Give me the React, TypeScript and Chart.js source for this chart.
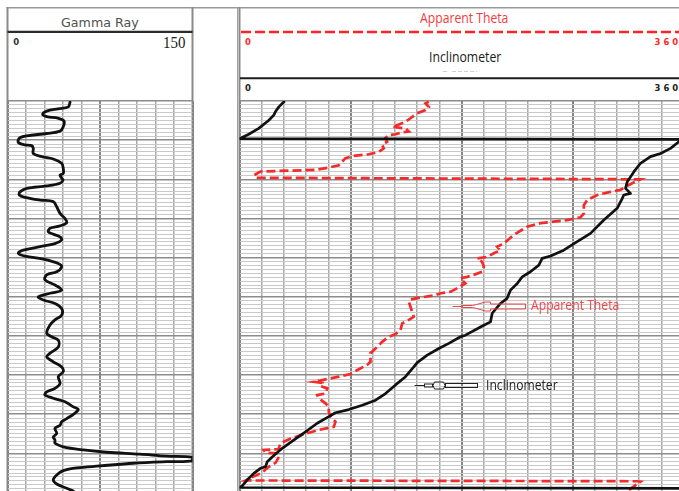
import React, { useEffect, useRef } from 'react';
import { Chart, registerables } from 'chart.js';

Chart.register(...registerables);

// ---------------- depth axis (shared) ----------------
const depthTop = 0;
const depthBottom = 100;
const depthMinorStep = 1;
const depthMajorStep = 10;

// ---------------- Gamma Ray track ----------------
const gammaMin = 0;
const gammaMax = 150;
const gammaStep = 15;
const gammaMajorStep = 75;
const gammaScaleLabels = ['0', '150'];

const gammaValues = [
  50.7, 49.3, 40.9, 31.8, 28.5, 31.8, 40.9, 45.8, 45.2, 42.6,
  31.8, 15.6, 9.6, 8.8, 14.2, 19.6, 20.9, 20.9, 27.7, 37.1,
  43.9, 45.2, 45.2, 42.6, 43.9, 45.0, 42.6, 31.8, 15.6, 10.1,
  9.6, 14.2, 26.4, 37.1, 39.9, 42.6, 46.6, 48.0, 42.6, 34.5,
  33.1, 37.1, 42.6, 43.9, 38.5, 26.4, 12.8, 8.8, 14.2, 29.0,
  41.2, 43.9, 39.9, 31.8, 30.4, 38.5, 43.9, 34.5, 25.0, 29.0,
  38.5, 43.9, 43.9, 38.5, 34.5, 31.8, 35.8, 41.2, 41.2, 34.5,
  31.8, 37.1, 43.9, 45.2, 41.2, 42.6, 38.5, 31.8, 30.4, 37.1,
  46.6, 53.4, 57.4, 53.4, 48.0, 43.9, 42.6, 38.5, 39.9, 37.1,
  38.5, 38.5, 45.2, 61.5, 80.4, 107.4, 129.1, 150.0, 150.0, 129.1,
  102.0, 75.0, 56.1, 45.2, 39.9, 37.1, 39.9, 48.0, 53.4,
];
const gammaDepths = [
  0.3, 1.5, 2.0, 2.6, 3.4, 4.0, 4.4, 5.1, 6.6, 7.7,
  8.3, 8.9, 9.5, 10.6, 11.2, 11.4, 12.1, 13.4, 14.2, 14.8,
  15.9, 17.2, 18.5, 18.9, 19.7, 20.2, 21.0, 21.7, 22.3, 23.2,
  24.0, 24.6, 25.3, 25.7, 27.0, 28.7, 30.0, 31.1, 31.9, 32.5,
  33.4, 34.0, 34.7, 35.5, 36.4, 37.2, 38.1, 38.9, 39.6, 40.4,
  41.5, 42.3, 43.6, 44.4, 45.7, 47.0, 48.3, 49.1, 50.0, 50.8,
  51.7, 53.0, 54.7, 55.9, 57.2, 59.3, 60.2, 61.1, 62.8, 64.4,
  65.3, 66.6, 67.9, 69.1, 70.4, 72.1, 73.4, 74.3, 75.1, 75.9,
  76.8, 78.1, 78.8, 80.0, 81.1, 81.9, 82.8, 83.6, 84.9, 85.8,
  86.6, 87.4, 88.3, 89.1, 89.7, 90.2, 90.7, 91.0, 91.9, 92.1,
  92.5, 93.2, 93.7, 94.4, 95.5, 96.8, 97.8, 98.9, 99.6,
];

// ---------------- Apparent Theta / Inclinometer track ----------------
const angleMin = 0;
const angleMax = 360;
const angleStep = 18;
const angleMajorStep = 90;
const angleScaleLabels = ['0', '360'];

const inclinometerAngles = [
  36.7, 31.9, 29.2, 27.8, 23.8, 15.6, 7.5, 0.8, 0, 360,
  357.6, 356.2, 349.5, 341.4, 333.2, 325.1, 319.7, 314.4, 313.0, 317.0,
  311.6, 310.3, 306.2, 295.4, 284.6, 273.8, 262.9, 252.2, 245.4, 242.7,
  235.9, 229.2, 225.2, 219.7, 217.0, 211.6, 204.9, 203.5, 195.4, 183.2,
  179.2, 169.7, 161.6, 152.2, 144.1, 141.3, 134.6, 126.5, 118.4, 110.3,
  99.5, 88.6, 77.8, 72.4, 63.0, 53.5, 44.0, 34.6, 26.5, 22.5,
  21.1, 17.0, 11.6, 6.2, 2.2, 0, 360,
];
const inclinometerDepths = [
  0.0, 1.5, 2.7, 3.6, 4.9, 7.0, 8.5, 9.5, 9.6, 9.8,
  10.0, 10.4, 12.1, 13.4, 14.2, 15.9, 18.1, 20.6, 22.3, 23.6,
  24.0, 24.9, 27.4, 30.4, 33.8, 35.9, 38.1, 39.6, 40.2, 41.9,
  43.6, 44.9, 46.6, 48.3, 50.4, 51.7, 54.2, 56.4, 57.7, 59.8,
  60.2, 61.9, 63.2, 64.9, 66.8, 67.9, 70.4, 72.5, 74.7, 76.4,
  77.7, 78.8, 79.6, 80.6, 82.3, 84.5, 86.6, 88.7, 90.9, 92.1,
  93.4, 93.8, 95.1, 96.8, 98.3, 98.7, 98.9,
];

const apparentThetaAngles = [
  153.5, 150.8, 153.5, 150.8, 144.1, 138.6, 134.6, 129.2, 123.8, 134.6,
  137.3, 131.9, 126.5, 121.1, 118.4, 119.7, 115.7, 117.0, 112.9, 104.8,
  92.7, 85.9, 80.5, 72.4, 61.6, 17.0, 12.0, 13.5, 325.1, 318.4,
  313.0, 308.9, 300.8, 290.0, 281.9, 279.2, 279.2, 276.5, 265.7, 254.8,
  244.0, 233.3, 222.4, 214.3, 208.9, 211.6, 206.2, 200.8, 192.7, 196.8,
  198.1, 196.8, 190.0, 184.6, 179.2, 183.2, 173.7, 171.1, 163.0, 158.9,
  148.1, 138.6, 137.3, 138.6, 140.0, 141.3, 137.3, 131.9, 130.5, 126.5,
  121.1, 115.7, 110.3, 106.2, 106.2, 103.5, 96.7, 90.0, 80.5, 69.7,
  60.2, 67.1, 65.7, 71.1, 69.7, 63.0, 64.3, 69.7, 72.4, 72.4,
  73.8, 77.8, 76.5, 64.3, 52.1, 41.4, 33.2, 31.6, 19.5, 21.1,
  31.4, 31.4, 29.2, 22.9, 18.4, 10.5, 4.9, 322.7, 325.1, 314.4,
];
const apparentThetaDepths = [
  0.2, 0.6, 1.5, 2.3, 3.1, 4.4, 5.3, 6.0, 6.6, 7.0,
  7.8, 8.0, 8.5, 8.7, 9.4, 10.4, 11.2, 12.1, 13.0, 13.6,
  14.0, 14.6, 16.4, 17.0, 17.6, 18.0, 18.9, 19.6, 20.0, 21.0,
  21.9, 22.7, 23.2, 24.0, 25.3, 26.6, 28.7, 29.7, 30.4, 30.8,
  31.2, 32.1, 34.2, 36.4, 37.2, 38.1, 38.9, 39.8, 40.2, 41.1,
  42.3, 43.6, 44.4, 44.9, 45.3, 46.6, 48.3, 48.7, 49.1, 49.6,
  50.1, 50.7, 51.3, 52.5, 53.8, 55.1, 55.9, 56.8, 58.5, 59.5,
  60.2, 61.5, 63.2, 64.4, 66.6, 67.4, 68.5, 69.7, 70.4, 71.1,
  71.7, 72.0, 72.8, 73.4, 74.7, 75.1, 75.9, 77.2, 78.1, 79.4,
  80.6, 81.9, 83.2, 84.0, 85.1, 86.2, 87.4, 88.9, 89.1, 89.8,
  90.0, 91.2, 92.4, 93.6, 94.9, 96.0, 96.9, 97.1, 97.2, 99.6,
];

// callouts (arrow tips in data units)
const calloutLabels = ['Apparent Theta', 'Inclinometer'];
const calloutAngles = [172.5, 141.3];
const calloutDepths = [52.4, 72.5];

// ---------------- styling ----------------
const RED = '#f52a2a';
const BLACK = '#111111';

function isMultiple(v: number, step: number) {
  const r = v / step;
  return Math.abs(r - Math.round(r)) < 1e-6;
}

function depthAxis() {
  return {
    type: 'linear',
    reverse: true,
    min: depthTop,
    max: depthBottom,
    border: { display: false },
    ticks: { display: false, stepSize: depthMinorStep, autoSkip: false, maxTicksLimit: 1000 },
    grid: {
      drawTicks: false,
      color: (c: any) => (c.tick && isMultiple(c.tick.value, depthMajorStep) ? '#8c8c8c' : '#c9c9c9'),
      lineWidth: (c: any) => (c.tick && isMultiple(c.tick.value, depthMajorStep) ? 1.6 : 1),
    },
  };
}

function valueAxis(min: number, max: number, step: number, major: number) {
  return {
    type: 'linear',
    min,
    max,
    border: { display: false },
    ticks: { display: false, stepSize: step, autoSkip: false, maxTicksLimit: 1000 },
    grid: {
      drawTicks: false,
      color: (c: any) => (c.tick && isMultiple(c.tick.value, major) ? '#858585' : '#a9a9a9'),
      lineWidth: (c: any) => (c.tick && isMultiple(c.tick.value, major) ? 2 : 1.5),
    },
  };
}

function baseOptions(padding: any, xAxis: any) {
  return {
    animation: false,
    responsive: false,
    maintainAspectRatio: false,
    events: [],
    layout: { padding },
    plugins: { legend: { display: false }, tooltip: { enabled: false }, title: { display: false } },
    scales: { x: xAxis, y: depthAxis() },
  };
}

const calloutPlugin = {
  id: 'callouts',
  afterDatasetsDraw(chart: any) {
    const { ctx, scales } = chart;
    const xs = scales.x;
    const ys = scales.y;
    ctx.save();
    ctx.lineWidth = 1;
    calloutLabels.forEach((_, i) => {
      const px = Math.round(xs.getPixelForValue(calloutAngles[i])) + 0.5;
      const py = Math.round(ys.getPixelForValue(calloutDepths[i])) + 0.5;
      if (i === 0) {
        ctx.strokeStyle = '#e8474b';
        ctx.beginPath();
        ctx.moveTo(px, py);
        ctx.lineTo(px + 10, py);
        ctx.stroke();
        const pts = [
          [10, -1], [20, -1], [24, -2], [33, -4.5], [38, -4.5], [38, -2.5], [73, -2.5],
          [73, 2.5], [38, 2.5], [38, 4.5], [33, 4.5], [24, 2], [20, 1], [10, 1],
        ];
        ctx.beginPath();
        pts.forEach((p, k) => (k ? ctx.lineTo(px + p[0], py + p[1]) : ctx.moveTo(px + p[0], py + p[1])));
        ctx.closePath();
        ctx.stroke();
      } else {
        ctx.strokeStyle = '#222222';
        ctx.beginPath();
        ctx.moveTo(px, py);
        ctx.lineTo(px + 10, py);
        ctx.stroke();
        ctx.strokeRect(px + 10, py - 1.5, 8, 3);
        ctx.beginPath();
        ctx.moveTo(px + 20, py - 3.5);
        ctx.lineTo(px + 29, py - 3.5);
        ctx.quadraticCurveTo(px + 32, py, px + 29, py + 3.5);
        ctx.lineTo(px + 20, py + 3.5);
        ctx.quadraticCurveTo(px + 17, py, px + 20, py - 3.5);
        ctx.stroke();
        ctx.strokeRect(px + 31, py - 2, 32, 4);
      }
    });
    ctx.restore();
  },
};

function gammaConfig(): any {
  return {
    type: 'scatter',
    data: {
      datasets: [
        {
          label: 'Gamma Ray',
          data: gammaValues.map((v, i) => ({ x: v, y: gammaDepths[i] })),
          showLine: true,
          borderColor: BLACK,
          borderWidth: 2.8,
          pointRadius: 0,
          tension: 0.35,
          fill: false,
          borderJoinStyle: 'round',
          borderCapStyle: 'round',
        },
      ],
    },
    options: baseOptions({ left: 7.5, right: 7.5, top: 5, bottom: 3.4 }, valueAxis(gammaMin, gammaMax, gammaStep, gammaMajorStep)),
  };
}

function thetaConfig(): any {
  return {
    type: 'scatter',
    data: {
      datasets: [
        {
          label: 'Inclinometer',
          data: inclinometerAngles.map((v, i) => ({ x: v, y: inclinometerDepths[i] })),
          showLine: true,
          borderColor: BLACK,
          borderWidth: 2.7,
          pointRadius: 0,
          tension: 0,
          fill: false,
          borderJoinStyle: 'round',
          order: 1,
        },
        {
          label: 'Apparent Theta',
          data: apparentThetaAngles.map((v, i) => ({ x: v, y: apparentThetaDepths[i] })),
          showLine: true,
          borderColor: RED,
          borderWidth: 2.7,
          borderDash: [9, 4],
          pointRadius: 0,
          tension: 0,
          fill: false,
          order: 2,
        },
      ],
    },
    options: baseOptions({ left: 9.5, right: 6.5, top: 5, bottom: 3.4 }, valueAxis(angleMin, angleMax, angleStep, angleMajorStep)),
    plugins: [calloutPlugin],
  };
}

function Track({ left, top, width, height, make }: any) {
  const ref = useRef<HTMLCanvasElement>(null);
  useEffect(() => {
    const chart = new Chart(ref.current as HTMLCanvasElement, make());
    return () => chart.destroy();
  }, []);
  return (
    <canvas
      ref={ref}
      width={width}
      height={height}
      style={{ position: 'absolute', left, top, width, height, display: 'block' }}
    />
  );
}

let measureCtx: CanvasRenderingContext2D | null = null;
function measure(text: string, font: string) {
  if (!measureCtx) measureCtx = document.createElement('canvas').getContext('2d');
  (measureCtx as CanvasRenderingContext2D).font = font;
  return (measureCtx as CanvasRenderingContext2D).measureText(text);
}

function Label({ text, left, baseline, inkWidth, font, color, spacing }: any) {
  const m: any = measure(text, font);
  const ink = m.actualBoundingBoxLeft + m.actualBoundingBoxRight;
  const sx = inkWidth && ink > 0 ? inkWidth / ink : 1;
  const ascent = m.fontBoundingBoxAscent != null ? m.fontBoundingBoxAscent : parseFloat(font) * 0.95;
  return (
    <div
      style={{
        position: 'absolute',
        left: left + m.actualBoundingBoxLeft * sx,
        top: baseline - ascent,
        font,
        color,
        letterSpacing: spacing || 'normal',
        whiteSpace: 'nowrap',
        transform: `scaleX(${sx})`,
        transformOrigin: '0 0',
      }}
    >
      {text}
    </div>
  );
}

const SANS = '"Open Sans"';
const SMALL = 'bold 8.5px "DejaVu Sans"';

export default function App() {
  return (
    <div
      style={{
        position: 'absolute',
        left: 0,
        top: 0,
        width: 679,
        height: 491,
        overflow: 'hidden',
        background: '#ffffff',
      }}
    >
      <svg width={679} height={491} style={{ position: 'absolute', left: 0, top: 0 }}>
        <line x1={6.5} x2={679} y1={7.75} y2={7.75} stroke="#9a9a9a" strokeWidth={1.5} />
        <line x1={7.5} x2={7.5} y1={7} y2={491} stroke="#8a8a8a" strokeWidth={2} />
        <line x1={192.5} x2={192.5} y1={7} y2={491} stroke="#8a8a8a" strokeWidth={2} />
        <line x1={237.5} x2={237.5} y1={7} y2={491} stroke="#a0a0a0" strokeWidth={1} />
        <line x1={239.5} x2={239.5} y1={7} y2={491} stroke="#8a8a8a" strokeWidth={2} />
        <line x1={7.5} x2={192.5} y1={31.8} y2={31.8} stroke="#2b2b2b" strokeWidth={2.2} />
        <line x1={241} x2={679} y1={32} y2={32} stroke="#ff2424" strokeWidth={2.6} strokeDasharray="10 4" />
        <line x1={240} x2={679} y1={78.3} y2={78.3} stroke="#1c1c1c" strokeWidth={2} />
        <line x1={443} x2={447} y1={71.5} y2={71.5} stroke="#d0d0d0" strokeWidth={1} />
        <line x1={452} x2={477} y1={71.5} y2={71.5} stroke="#d0d0d0" strokeWidth={1} strokeDasharray="4 2" />
      </svg>

      <Track left={0} top={96} width={200} height={400} make={gammaConfig} />
      <Track left={230} top={96} width={460} height={400} make={thetaConfig} />

      <Label text="Gamma Ray" left={61} baseline={27} inkWidth={78} font={'11.5px "DejaVu Sans"'} color="#505050" />
      <Label text={gammaScaleLabels[0]} left={13.3} baseline={44.5} font={SMALL} color="#333333" />
      <Label text={gammaScaleLabels[1]} left={163.5} baseline={48.3} inkWidth={21.5} font={'16px "Liberation Serif"'} color="#222222" />

      <Label text="Apparent Theta" left={420} baseline={23.3} inkWidth={87.7} font={`14px ${SANS}`} color="#f23c3c" />
      <Label text={angleScaleLabels[0]} left={245} baseline={44.5} font={SMALL} color="#ff2a2a" />
      <Label text={angleScaleLabels[1]} left={654.5} baseline={44.5} font={SMALL} color="#ff2a2a" spacing="3px" />
      <Label text="Inclinometer" left={430} baseline={61.7} inkWidth={71.7} font={`14px ${SANS}`} color="#1a1a1a" />
      <Label text={angleScaleLabels[0]} left={245} baseline={90.5} font={SMALL} color="#222222" />
      <Label text={angleScaleLabels[1]} left={654.5} baseline={90.5} font={SMALL} color="#222222" spacing="3px" />

      <Label text={calloutLabels[0]} left={530.7} baseline={310} inkWidth={87.6} font={`14px ${SANS}`} color="#f0484b" />
      <Label text={calloutLabels[1]} left={487.3} baseline={389.5} inkWidth={71} font={`14px ${SANS}`} color="#222222" />
    </div>
  );
}
